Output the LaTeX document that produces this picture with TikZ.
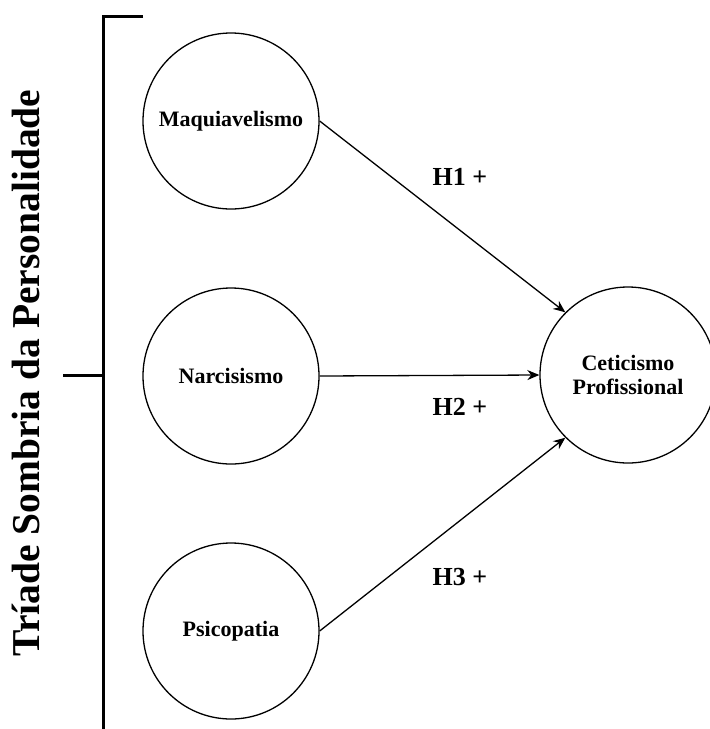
\documentclass[tikz,border=0pt]{standalone}
\usepackage{fontspec}
\setmainfont{Liberation Serif}
\usetikzlibrary{arrows.meta}

\begin{document}
\begin{tikzpicture}[x=1pt,y=-1pt,
  trait/.style={draw, circle, line width=1.3pt, minimum size=176pt, inner sep=0pt,
    align=center, font=\fontsize{22}{24}\selectfont\bfseries},
  hyp/.style={font=\fontsize{26}{28}\selectfont\bfseries},
  link/.style={-{Stealth[length=12pt,width=10pt]}, line width=1.3pt}]
\useasboundingbox (0,0) rectangle (710,729);
\node[trait] (M) at (231,121) {Maquiavelismo};
\node[trait] (N) at (231,376) {Narcisismo};
\node[trait] (P) at (231,631) {Psicopatia};
\node[trait] (C) at (628,375) {Ceticismo\\Profissional};
\node[hyp] (H1) at (460,177) {H1 +};
\node[hyp] (H2) at (460,407) {H2 +};
\node[hyp] (H3) at (460,577) {H3 +};
% bracket
\coordinate (top) at (143,16);
\coordinate (corner) at (103,16);
\coordinate (bottom) at (103,729);
\coordinate (mid) at (103,375);
\coordinate (tick) at (63,375);
\draw[line width=3pt] (top) -- (corner) -- (bottom);
\draw[line width=3pt] (tick) -- (mid);
\node[rotate=90, font=\fontsize{39.5}{42}\selectfont\bfseries] (title) at (26,373) {Tríade Sombria da Personalidade};
% hypotheses
\draw [link] (M.east) -- (C.north west);
\draw [link] (N.east) -- (C.west);
\draw [link] (P.east) -- (C.south west);
\end{tikzpicture}
\end{document}
